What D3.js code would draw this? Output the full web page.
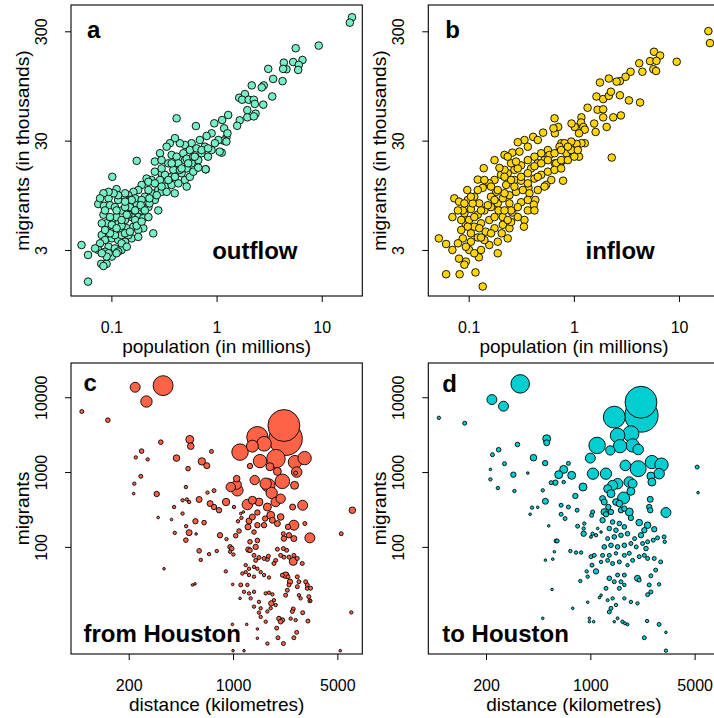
<!DOCTYPE html>
<meta charset="utf-8">
<style>
    body { margin: 0; background: #fff; }
    svg text { font-family: "Liberation Sans", Arial, Helvetica, sans-serif; }
</style>
<svg width="714" height="718"></svg>

<script src="https://d3js.org/d3.v7.min.js"></script>
<script>
    // [population (millions), migrants (thousands)]
    var outflowPts = [
        [19.4,403],[18.5,360],[9.36,222],[5.66,210],[6.56,164],[5.35,157],[4.36,155],[4.62,135],[4.29,136],[6.05,148],
        [5.97,133],[3.10,136],[4.24,105],[3.45,110],[2.81,96],[2.69,92],[2.16,96],[3.38,76],[2.78,64],[1.64,74],
        [1.86,80],[1.75,71],[2.02,71],[2.26,71],[2.31,65],[1.96,57],[2.35,53],[1.96,49],[2.26,50],[1.66,46],
        [1.57,41],[1.24,32],[1.17,30],[1.12,23.3],[0.79,16.4],
        [0.417,48],[0.636,40.8],[0.951,43.2],[1.13,46.3],[1.29,51.5],[1.18,38.9],[1.27,35],[1.24,29.4],[1.04,30.4],[0.897,35],
        [0.804,33.1],[0.694,30.4],[0.579,28.4],[0.5,27.4],[0.448,28.4],[0.402,31.6],[0.36,28.4],[0.335,26.4],[0.29,23],[0.259,19.3],
        [0.3,19.9],[0.374,22.2],[0.417,21.4],[0.483,23],[0.557,24.6],[0.645,25.5],[0.774,26.4],[0.897,24.6],[1.07,23.8],[0.964,28.4],
        [0.174,19.6],[0.787,16.4],[0.67,19.9],[0.579,18.6],[0.519,16.7],[0.465,15.1],[0.388,16.2],[0.348,18.6],[0.3,15.1],[0.259,15.6],
        [0.241,13.1],[0.216,13.5],[0.194,11.8],[0.18,10.6],[0.162,10.2],[0.145,9.5],[0.13,8.9],[0.116,8.6],[0.102,14],[0.112,10.8],
        [0.094,8.9],[0.075,7.9],[0.085,7.6],[0.097,7.7],[0.084,6.3],[0.108,7.4],[0.125,6.9],[0.15,7.4],[0.174,8],[0.208,9.2],
        [0.241,9.9],[0.279,10.6],[0.323,11.4],[0.374,11.8],[0.433,12.2],[0.5,13.1],[0.557,14],[0.601,15.6],[0.259,8.6],[0.225,7.4],
        [0.194,6.9],[0.18,6],[0.201,5.85],[0.156,6],[0.135,5.64],[0.116,5.26],[0.101,5.64],[0.094,4.9],[0.105,4.57],[0.121,4.41],
        [0.14,4.74],[0.162,4.9],[0.201,4.74],[0.25,4.26],[0.081,4.11],[0.087,3.7],[0.101,3.83],[0.116,3.7],[0.135,3.57],[0.156,3.83],
        [0.094,3.21],[0.108,3.1],[0.125,3],[0.078,3.45],[0.075,3],[0.087,2.89],[0.101,2.61],[0.052,3.33],[0.06,2.7],[0.08,2.24],
        [0.09,2.24],[0.084,2.14],[0.06,1.54],[0.3,10.2],[0.279,6.9],[0.135,7.4],[0.168,8.9],[0.225,10.6],[0.194,8.6],[0.323,14.6],
        [0.433,18.6],[0.5,19.9],[0.29,13.1],[0.225,12.6],[0.374,14],
        [0.09,5.26],[0.112,6],[0.125,5],[0.145,6.3],[0.168,5.64],[0.23,8],[0.19,7.4],[0.15,8.6],[0.135,9.9],[0.125,4.1],
        [0.145,4.1],[0.18,4.57],[0.108,4.1],[0.097,4.26],[0.18,3.95],[0.094,2.8],[0.116,2.9],[0.259,12.2],[0.335,10.2],[0.4,9.9],
        [0.448,16.2],[0.374,18.6],[0.3,16.7],[0.52,20.5],[0.6,21.4],[0.72,23],[0.83,21.4],[0.67,17],[0.52,11.4],
        [0.087,6.9],[0.097,6],[0.112,6.9],[0.125,5.64],[0.14,6.3],[0.168,6.9],[0.19,7.7],[0.208,6.9],[0.23,8.9],[0.27,9.5],
        [0.3,11.4],[0.348,13.1],[0.402,14],[0.465,16.7],[0.538,18.6],[0.62,21.4],[0.72,24.6],[0.83,25.5],[0.156,8.6],[0.135,8.3],
        [0.116,9.5],[0.105,9.9],[0.094,10.2],[0.084,9.9],[0.078,8.9],[0.101,5.1],[0.112,4.74],[0.087,4.57],[0.081,5.26],[0.135,4.26],
        [0.15,4.41],[0.174,5],[0.194,5.45],[0.225,6],[0.125,3.45],[0.14,3.21],[0.112,2.8],[0.09,2.61],[0.081,2.8],[0.07,3.1]
    ];

    var inflowPts = [
        [19.0,301],[19.7,234],[9.5,158],[5.78,195],[6.6,180],[5.3,160],[6.1,161],[5.7,135],[6.05,130],[4.18,153],
        [4.48,128],[3.46,128],[3.1,115],[2.74,105],[2.55,104],[2.15,111],[1.77,102],[2.74,78],[3.34,70],[4.26,67],
        [1.64,76],[1.9,72],[2.15,77],[2.25,84],[1.35,60],[1.68,57.5],[1.9,58],[1.9,49],[2.37,49],[2.8,51],
        [2.05,40],[1.18,49],[1.17,44],[1.23,40],[1.56,43],[1.61,36],[1.27,37.8],[1.02,40],[0.95,43],[1.12,35],
        [2.29,21],[1.27,28.4],[1.18,28.4],[1.06,28],[0.88,27.4],[0.76,28.4],[1.12,21.4],[0.88,23.8],[0.76,19.3],[0.66,18.6],
        [0.71,40],[0.66,35],[0.125,2.57],[0.43,8.6],[0.37,11.1],
        [0.655,48],[0.64,38.9],[0.51,35.5],[0.41,32.5],[0.339,30.4],[0.293,29],[0.26,23.3],[0.219,22.2],[0.176,19.9],[0.139,16.8],
        [0.122,13.2],[0.097,10.6],[0.073,8.9],[0.081,8.3],[0.098,8.6],[0.113,9.2],[0.126,8],[0.105,7.1],[0.091,6.5],[0.122,6.3],
        [0.141,6.9],[0.163,7.4],[0.189,8],[0.211,8.9],[0.244,9.5],[0.282,10.2],[0.327,10.6],[0.378,9.9],[0.315,8.2],[0.365,6.9],
        [0.416,7.8],[0.422,6.9],[0.339,5.64],[0.335,4.9],[0.244,4.74],[0.206,4.26],[0.189,2.8],[0.157,3.33],[0.141,3.7],[0.122,3.9],
        [0.105,3.57],[0.088,3.83],[0.079,3.45],[0.052,3.83],[0.061,3.4],[0.081,2.5],[0.094,2.35],[0.091,2.2],[0.061,1.8],[0.082,1.8],
        [0.116,1.87],[0.136,1.39],[0.131,3],[0.101,3],[0.113,4.9],[0.094,5.1],[0.101,5.64],[0.131,5.26],[0.157,5.64],[0.176,6],
        [0.211,6],[0.26,6.6],[0.293,6],[0.253,5.4],[0.176,4.74],[0.211,5.1],[0.145,4.41],[0.126,4.74],[0.227,11.8],[0.272,13.1],
        [0.315,12.9],[0.365,12.2],[0.422,13.5],[0.489,14.6],[0.566,15.6],[0.546,11.8],[0.61,13.1],[0.79,12.9],[0.68,18.6],[0.757,19.9],
        [0.85,23],[0.944,24.6],[0.944,29.4],[0.815,28.4],[0.73,26.4],[0.566,24.6],[0.489,23],[0.422,21.4],[0.365,19.9],[0.315,17.8],
        [0.272,16.2],[0.235,15.1],[0.203,14.6],[0.176,13.1],[0.157,12.2],[0.136,11.1],[0.183,10.2],[0.163,9.2],[0.219,16.2],[0.253,18.6],
        [0.293,16.7],[0.392,16.7],[0.454,18.6],[0.526,19.9],[0.587,22.2],[0.454,30.4],[0.365,26.4],[0.304,23.8],[0.196,16.9],[0.235,21.4],
        [0.282,19.3],[0.109,8],[0.088,6.9],[0.244,8],[0.192,6.9],
        [0.085,5.64],[0.098,4.9],[0.113,6],[0.131,6.9],[0.152,7.7],[0.176,8.6],[0.219,9.9],[0.272,11.4],[0.315,14],[0.365,15.1],
        [0.422,17.5],[0.489,18.6],[0.566,19.9],[0.655,23],[0.757,24.6],[0.877,26.4],[0.253,13.1],[0.219,14],[0.189,10.6],[0.163,11.4],
        [0.141,13.1],[0.122,10.6],[0.105,9.2],[0.091,8],[0.079,6.9],[0.07,6],[0.085,4.57],[0.105,4.26],[0.131,3.9],[0.163,4.26],
        [0.189,3.57],[0.235,3.83],[0.094,3.21],[0.113,2.8],[0.07,3],[0.293,7.4],[0.253,6.9],[0.219,6.9],[0.235,5.64],[0.365,8.6],
        [0.454,10.6],[0.526,11.4],[0.454,14],[0.655,16.2],[0.757,16.7],[0.877,19.9],[1.01,21.4],[1.09,24.6]
    ];

    // [distance (km), migrants, population (millions)]
    var fromHouston = [
        [97,6450,0.29],[145,4940,0.39],[221,13600,1.83],[263,8770,2.37],[340,14300,7.3],[328,2510,0.39],[244,1905,0.39],[223,1570,0.21],
        [268,1477,0.21],[418,1537,0.8],[513,2730,1.17],[521,2220,0.8],[717,1888,0.29],[618,1390,1.0],[667,1217,0.66],[500,1110,0.39],
        [241,877,0.29],[218,700,0.21],[216,515,0.12],[308,509,0.53],[483,631,0.21],[459,420,0.21],[490,430,0.21],[508,398,0.21],
        [593,430,0.66],[403,341,0.21],[459,279,0.21],[315,247,0.12],[387,232,0.12],[560,220,0.53],[640,211,0.39],[485,189,0.21],
        [407,154,0.21],[508,155,0.66],[566,149,0.12],[345,51,0.12],[535,31,0.12],[556,32,0.12],[593,88.5,0.39],[608,67,0.21],
        [691,80,0.21],[483,123,0.39],[702,379,0.66],[746,341,0.53],[806,309,0.53],[898,398,1.0],[746,565,0.29],[674,531,0.21],
        [818,143,0.53],[904,127,0.21],[778,88,0.21],[955,100,0.39],[980,95,0.39],[955,86,0.21],[1006,79,0.21],[1042,141,0.39],
        [1097,163,0.39],[1138,244,0.21],[1080,220,0.21],[1015,341,0.21],[1058,679,1.61],[965,631,1.61],[1070,570,2.37],[1058,816,0.8],
        [1114,1848,5.0],[894,47,0.21],[995,31.5,0.12],[1126,31,0.29],[1114,20.5,0.12],[991,9.2,0.12],[1000,4.1,0.12],[1185,4.1,0.12],
        [1235,9.2,0.12],[1456,8,0.12],[1456,6,0.12],[1699,5.1,0.21],[2174,5.1,0.29],[2000,6.1,0.29],[1960,8.2,0.29],[2557,6.1,0.29],
        [2670,7.2,0.29],[3174,10.2,0.29],[2929,13.2,0.29],[2627,10.5,0.21],[2434,11,0.21],[2030,11,0.39],[2140,10.5,0.39],[2085,10,0.39],
        [1699,13.7,0.21],[1655,10,0.21],[1532,11.6,0.21],[1492,13.2,0.21],[1532,15.1,0.21],[1382,15.9,0.21],[1492,18.4,0.21],[1313,20.5,0.21],
        [1279,23.9,0.21],[1382,25.1,0.21],[1185,25.1,0.21],[1655,23.9,0.21],[1742,24.4,0.21],[1835,23.2,0.21],[1880,19.4,0.21],[1931,16.7,0.21],
        [1788,15.1,0.21],[1805,17.6,0.53],[2252,22.6,0.29],[2311,26.3,0.29],[2370,31,0.29],[2532,14.8,0.29],[2496,13.7,0.29],[2835,20.5,0.21],
        [2764,22.6,0.21],[2695,29.4,0.29],[2764,34.2,0.29],[2695,39.8,0.29],[2334,39.8,0.29],[2252,41.8,0.8],[2140,41.8,0.29],[2407,34.2,0.53],
        [3066,34.2,0.29],[3143,27.9,0.29],[3273,19,0.29],[3218,21.6,0.29],[2910,60,0.29],[2695,70,0.29],[2557,77,0.29],[2532,64,1.17],
        [2370,73,0.29],[2192,73,0.29],[2085,77,0.29],[2287,90,0.29],[2172,95,0.29],[1982,93,0.29],[1931,66,0.29],[1880,60,0.29],
        [1699,68,0.29],[1725,75,0.29],[1613,70,0.29],[1492,72,0.29],[1418,66,0.29],[1382,77,0.29],[1382,54,0.21],[1456,51,0.21],
        [1532,46,0.21],[1613,42,0.21],[1742,39,0.21],[1279,51,0.21],[1279,42,0.21],[1382,40,0.21],[1248,31,0.21],[1216,57,0.21],
        [1216,46,0.21],[1155,44,0.21],[1299,90,0.39],[1299,117,0.39],[1418,100,0.53],[1456,122,0.39],[1267,92,0.53],[1382,158,0.39],
        [1456,195,0.53],[1613,195,0.53],[1640,239,0.53],[1260,185,0.66],[1279,222,0.66],[1348,251,0.66],[1248,368,2.05],[1492,398,1.17],
        [1456,288,0.53],[1699,341,1.17],[1788,264,1.17],[1835,227,0.66],[1982,205,0.66],[1931,398,1.61],[2085,441,1.61],[2085,251,0.8],
        [1815,525,2.37],[1655,700,2.37],[1725,665,3.28],[2140,752,3.9],[1982,1022,1.17],[1767,1180,1.17],[1516,1402,3.28],[1940,1510,6.3],
        [1397,782,1.61],[1299,1202,0.53],[1348,2220,2.63],[1456,2930,8.3],[1613,2390,3.9],[2192,4190,18.7],[2252,2786,20.4],[2599,1359,3.28],
        [2670,1000,2.05],[3017,1536,3.28],[2584,665,1.17],[2627,970,0.29],[2506,341,0.66],[2929,360,1.83],[3030,205,0.29],[2557,195,1.83],
        [2334,185,0.53],[2370,143,0.53],[2557,129,0.66],[2192,129,0.53],[2172,150,0.29],[3273,132,1.83],[5310,150,0.29],[6300,309,0.8],
        [6200,13.3,0.21],[5230,4.1,0.12],[3310,19,0.12],[3143,31,0.29],[3310,28,0.29],[1126,279,0.12],[1173,293,0.12],[1348,420,1.17]
    ];

    var toHouston = [
        [96.6,5310,0.21],[144,4500,0.29],[339,15100,6.3],[219,9310,1.83],[262,7590,1.83],[510,2790,1.17],[510,2465,0.66],[325,2340,0.39],
        [243,1990,0.39],[221,1706,0.29],[266,1294,0.29],[416,1556,0.8],[498,1318,0.53],[713,1306,0.29],[663,1086,1.17],[614,923,1.17],
        [750,904,1.17],[583,722,0.53],[546,722,0.29],[663,736,0.21],[214,1086,0.12],[214,799,0.21],[240,612,0.21],[305,923,0.53],
        [310,558,0.21],[381,970,0.12],[500,407,0.66],[480,570,0.21],[407,335,0.21],[395,273,0.12],[444,338,0.12],[526,191,0.12],
        [590,120,0.29],[600,120,0.29],[500,66.5,0.12],[560,68.6,0.12],[554,27,0.12],[480,11.1,0.12],[637,273,0.29],[677,239,0.29],
        [713,341,0.29],[637,360,0.29],[794,479,0.53],[893,631,1.17],[815,309,0.29],[822,189,0.29],[902,150,0.53],[735,88,0.21],
        [802,84,0.21],[867,84,0.21],[574,86,0.12],[762,15.1,0.12],[857,35,0.21],[960,18.2,0.12],[985,10,0.12],[1052,10,0.12],
        [945,47,0.21],[960,40,0.21],[1026,57,0.29],[1010,74,0.29],[1062,77,0.29],[1092,47,0.53],[1010,136,0.16],[1036,150,0.21],
        [1092,143,0.21],[902,176,0.21],[911,205,0.21],[1036,293,0.29],[1020,264,0.29],[1120,176,0.12],[1180,158,0.12],[1240,293,0.8],
        [1273,273,0.53],[1208,227,0.53],[1208,442,0.66],[1240,398,0.66],[1320,341,0.53],[1375,293,0.53],[1306,600,1.17],[1410,665,1.83],
        [1375,515,1.17],[1523,700,2.05],[1670,450,2.63],[1485,398,0.8],[1565,379,0.8],[1604,309,0.53],[1690,325,0.53],[1823,293,1.17],
        [1870,244,0.53],[1823,736,2.05],[1920,700,1.48],[1870,553,1.17],[1716,1228,2.05],[2092,1110,4.7],[1920,2270,3.28],[2092,2008,2.05],
        [1581,2220,3.28],[1523,3085,3.9],[1361,1948,1.61],[1110,2270,5.0],[1000,1537,1.83],[1042,952,2.37],[1273,952,2.37],[1447,5420,8.8],
        [2185,8580,18.7],[2200,5700,20.4],[1870,3250,4.7],[2585,1360,3.28],[3000,1255,3.28],[2890,952,2.05],[2545,884,1.17],[2585,736,1.17],
        [2520,432,0.66],[2480,341,0.53],[2520,309,0.53],[3210,288,1.83],[2125,211,0.8],[2420,195,0.8],[2680,172,0.53],[2300,167,0.53],
        [2185,143,0.53],[2240,111,0.29],[2420,117,0.29],[2640,123,0.29],[2820,132,0.29],[3120,136,0.29],[3150,117,0.21],[2360,95,0.39],
        [2300,77,0.29],[2125,74,0.29],[2420,70,0.29],[2680,70,0.29],[2960,63,0.29],[2070,38,0.66],[2125,36,0.29],[2545,41,0.29],
        [2740,49,0.29],[2480,31,0.29],[2545,25,0.29],[2420,23,0.29],[2890,31.6,0.21],[2400,10.2,0.21],[2890,9.2,0.29],[3210,7.2,0.12],
        [3210,4.1,0.21],[2300,6.1,0.29],[1523,11.1,0.16],[1640,10,0.21],[1705,9.5,0.16],[1775,9.2,0.16],[1447,10,0.12],[1340,13.5,0.29],
        [1375,15.1,0.29],[1485,16.7,0.21],[1306,19.4,0.16],[1410,20.5,0.21],[1690,20.5,0.21],[1870,18.4,0.21],[2070,17.6,0.21],[1180,22.6,0.12],
        [1150,21,0.12],[1273,27.9,0.29],[1565,27.9,0.29],[1690,31,0.21],[1604,34.2,0.29],[1340,38,0.39],[1447,34.2,0.29],[1523,42,0.29],
        [1690,42,0.29],[1180,63,0.21],[1306,66,0.29],[1410,60,0.29],[1565,63,0.29],[1775,57,0.21],[1920,66,0.29],[1208,77,0.29],
        [1340,77,0.29],[1485,82,0.21],[1690,77,0.29],[1823,82,0.29],[1240,100,0.39],[1375,105,0.39],[1523,100,0.39],[1690,105,0.39],
        [1870,111,0.29],[2030,100,0.29],[1306,129,0.29],[1447,136,0.39],[1604,143,0.39],[1775,150,0.39],[1980,129,0.29],[1340,176,0.39],
        [1485,167,0.39],[1690,185,0.39],[1565,205,0.39],[1410,215,0.39],[5200,1166,0.29],[5270,531,0.12],[7160,251,0.53],[7050,31,0.12],
        [985,11.1,0.12]
    ];

    var popTicks = [0.1, 1, 10],
        thousandTicks = [3, 30, 300],
        distTicks = [200, 1000, 5000],
        migrantTicks = [100, 1000, 10000];

    var svg = d3.select("svg"),
        pw = 291.3,
        ph = 291;

    var size = d3.scaleSqrt().domain([0, 20]).range([0, 16.5]);

    function panel(o) {
        var g = svg.append("g")
            .attr("transform", "translate(" + o.left + "," + o.top + ")");

        var x = d3.scaleLog().domain(o.xDomain).range([0, pw]),
            y = d3.scaleLog().domain(o.yDomain).range([ph, 0]);

        g.append("clipPath")
            .attr("id", "clip-" + o.letter)
            .append("rect")
            .attr("width", pw)
            .attr("height", ph);

        var data = o.bubbles ? o.data.slice().sort(function (a, b) { return b[2] - a[2]; }) : o.data;

        g.append("g")
            .attr("clip-path", "url(#clip-" + o.letter + ")")
            .selectAll("circle")
            .data(data)
            .enter().append("circle")
            .attr("cx", function (d) { return x(d[0]); })
            .attr("cy", function (d) { return y(d[1]); })
            .attr("r", function (d) { return o.bubbles ? Math.max(size(d[2]), 1.3) : 3.8; })
            .attr("fill", o.color)
            .attr("stroke", "#000")
            .attr("stroke-width", 0.9);

        // x axis
        var xa = g.append("g")
            .attr("transform", "translate(0," + ph + ")")
            .call(d3.axisBottom(x).tickValues(o.xTicks).tickSize(6).tickFormat(String));
        xa.select(".domain").remove();
        xa.selectAll("line").attr("stroke", "#000");
        xa.selectAll("text")
            .attr("y", 36.5)
            .attr("dy", null)
            .attr("fill", "#000")
            .attr("font-size", 16)
            .attr("font-family", "Liberation Sans, Arial, sans-serif");

        // y axis, labels rotated like R's default
        var ya = g.append("g")
            .call(d3.axisLeft(y).tickValues(o.yTicks).tickSize(6).tickFormat(String));
        ya.select(".domain").remove();
        ya.selectAll("line").attr("stroke", "#000");
        ya.selectAll("text")
            .attr("x", null)
            .attr("dy", null)
            .attr("text-anchor", "middle")
            .attr("transform", "translate(-24.3,0) rotate(-90)")
            .attr("fill", "#000")
            .attr("font-size", 16)
            .attr("font-family", "Liberation Sans, Arial, sans-serif");

        g.append("rect")
            .attr("width", pw)
            .attr("height", ph)
            .attr("fill", "none")
            .attr("stroke", "#000")
            .attr("stroke-width", 1.1);

        g.append("text")
            .attr("x", pw / 2)
            .attr("y", ph + 57)
            .attr("text-anchor", "middle")
            .attr("font-size", 19)
            .text(o.xLabel);

        g.append("text")
            .attr("transform", "translate(-42," + (ph / 2) + ") rotate(-90)")
            .attr("text-anchor", "middle")
            .attr("font-size", 19.2)
            .text(o.yLabel);

        g.append("text")
            .attr("x", o.letterPos[0])
            .attr("y", o.letterPos[1])
            .attr("font-size", 24)
            .attr("font-weight", "bold")
            .text(o.letter);

        g.append("text")
            .attr("x", o.titlePos[0])
            .attr("y", o.titlePos[1])
            .attr("text-anchor", o.titleAnchor)
            .attr("font-size", 24)
            .attr("font-weight", "bold")
            .text(o.title);
    }

    panel({
        letter: "a", title: "outflow", data: outflowPts, color: "#76EEC6",
        left: 71, top: 5, xDomain: [0.0413, 24.3], yDomain: [1.138, 522],
        xTicks: popTicks, yTicks: thousandTicks,
        xLabel: "population (in millions)", yLabel: "migrants (in thousands)",
        letterPos: [16, 32.7], titlePos: [226.5, 254.3], titleAnchor: "end"
    });

    panel({
        letter: "b", title: "inflow", data: inflowPts, color: "#FFD700",
        left: 428.3, top: 5, xDomain: [0.0413, 24.3], yDomain: [1.138, 522],
        xTicks: popTicks, yTicks: thousandTicks,
        xLabel: "population (in millions)", yLabel: "migrants (in thousands)",
        letterPos: [17, 32.7], titlePos: [226.5, 254.3], titleAnchor: "end"
    });

    panel({
        letter: "c", title: "from Houston", data: fromHouston, color: "#FF6347", bubbles: true,
        left: 71, top: 363, xDomain: [82.1, 7347], yDomain: [3.7, 28700],
        xTicks: distTicks, yTicks: migrantTicks,
        xLabel: "distance (kilometres)", yLabel: "migrants",
        letterPos: [12.5, 28], titlePos: [12.5, 279], titleAnchor: "start"
    });

    panel({
        letter: "d", title: "to Houston", data: toHouston, color: "#00CED1", bubbles: true,
        left: 428.3, top: 363, xDomain: [82.1, 7347], yDomain: [3.7, 28700],
        xTicks: distTicks, yTicks: migrantTicks,
        xLabel: "distance (kilometres)", yLabel: "migrants",
        letterPos: [14, 28.5], titlePos: [14, 279], titleAnchor: "start"
    });
</script>
